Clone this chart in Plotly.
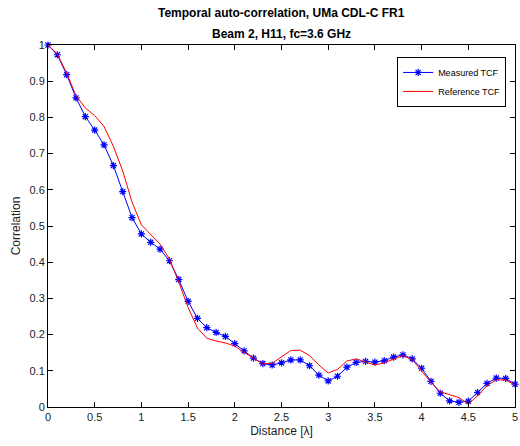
import numpy as np
import plotly.graph_objects as go

distance = [round(0.1 * i, 1) for i in range(51)]
measured = [1.0, 0.973, 0.918, 0.854, 0.802, 0.765, 0.724, 0.667, 0.595, 0.523,
            0.478, 0.455, 0.436, 0.404, 0.352, 0.292, 0.245, 0.219, 0.206, 0.195,
            0.175, 0.155, 0.135, 0.120, 0.116, 0.122, 0.130, 0.130, 0.114, 0.088,
            0.072, 0.085, 0.110, 0.123, 0.126, 0.124, 0.128, 0.138, 0.144, 0.133,
            0.107, 0.071, 0.038, 0.017, 0.013, 0.016, 0.040, 0.065, 0.080, 0.079,
            0.063]
reference = [1.0, 0.975, 0.922, 0.860, 0.826, 0.805, 0.775, 0.720, 0.652, 0.566,
             0.503, 0.475, 0.450, 0.409, 0.345, 0.275, 0.218, 0.190, 0.182, 0.177,
             0.168, 0.151, 0.134, 0.119, 0.121, 0.139, 0.156, 0.157, 0.142, 0.116,
             0.094, 0.104, 0.127, 0.133, 0.124, 0.116, 0.122, 0.133, 0.142, 0.131,
             0.100, 0.068, 0.042, 0.033, 0.026, 0.008, 0.031, 0.059, 0.075, 0.075,
             0.061]
x_ticks = [0, 0.5, 1, 1.5, 2, 2.5, 3, 3.5, 4, 4.5, 5]
x_tick_labels = ["0", "0.5", "1", "1.5", "2", "2.5", "3", "3.5", "4", "4.5", "5"]
y_ticks = [round(0.1 * i, 1) for i in range(11)]
y_tick_labels = ["0", "0.1", "0.2", "0.3", "0.4", "0.5", "0.6", "0.7", "0.8", "0.9", "1"]
title_lines = ["Temporal auto-correlation, UMa CDL-C FR1", "Beam 2, H11, fc=3.6 GHz"]

FONT = "Liberation Sans, Arial"

fig = go.Figure()
fig.add_trace(go.Scatter(
    x=distance, y=measured, mode="lines+markers", name="Measured TCF",
    line=dict(color="#0000ff", width=1),
    marker=dict(symbol="asterisk-open", size=6, color="#0000ff",
                line=dict(color="#0000ff", width=1.2)),
    cliponaxis=False,
))
fig.add_trace(go.Scatter(
    x=distance, y=reference, mode="lines", name="Reference TCF",
    line=dict(color="#ff0000", width=1),
))

axis_common = dict(
    showgrid=False, zeroline=False, showline=True, linecolor="black", linewidth=1,
    mirror="ticks", ticks="inside", ticklen=5, tickcolor="black",
    tickfont=dict(family=FONT, size=11, color="#222"),
    ticklabeloverflow="allow",
)
fig.update_xaxes(range=[0, 5], tickvals=x_ticks, ticktext=x_tick_labels,
                 title=dict(text="Distance [λ]", font=dict(family=FONT, size=12, color="#222"), standoff=4),
                 **axis_common)
fig.update_yaxes(range=[0, 1], tickvals=y_ticks, ticktext=y_tick_labels,
                 title=dict(text="Correlation", font=dict(family=FONT, size=12, color="#222"), standoff=6),
                 **axis_common)

for i, (txt, ypx) in enumerate(zip(title_lines, [13, 34])):
    fig.add_annotation(text="<b>" + txt + "</b>", xref="paper", yref="paper",
                       x=0.5, y=1 + (45 - ypx) / 362, xanchor="center", yanchor="middle",
                       showarrow=False, font=dict(family=FONT, size=12, color="black"))

fig.update_layout(
    width=520, height=446,
    margin=dict(l=48, r=2, t=45, b=39),
    plot_bgcolor="white", paper_bgcolor="white",
    legend=dict(x=0.981, y=0.967, xanchor="right", yanchor="top",
                bordercolor="black", borderwidth=1, bgcolor="white",
                font=dict(family=FONT, size=9, color="black"),
                tracegroupgap=0),
    showlegend=True,
)

fig.write_html("out.html")
